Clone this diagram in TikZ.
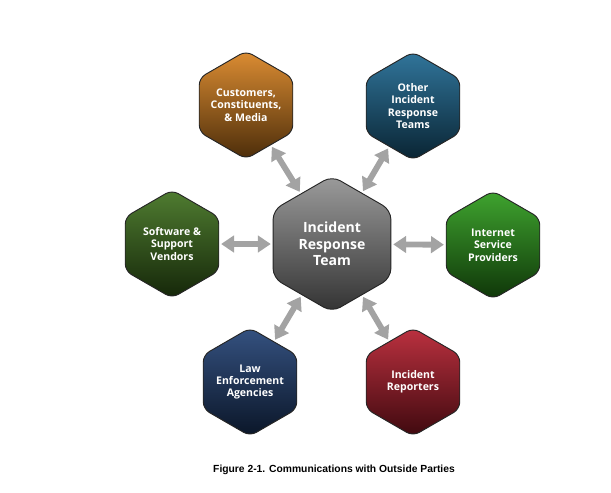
\documentclass[tikz,border=0pt]{standalone}
\usepackage{fontspec}
\newfontfamily\hexfont{Open Sans}
\newfontfamily\capfont{Liberation Sans}
\usetikzlibrary{shapes.geometric,arrows.meta}

\definecolor{custC}{HTML}{D8801C}
\definecolor{otherC}{HTML}{1A6690}
\definecolor{softC}{HTML}{3C6E1A}
\definecolor{ispC}{HTML}{2A9A18}
\definecolor{lawC}{HTML}{1E3E72}
\definecolor{repC}{HTML}{B41A2A}
\definecolor{irtC}{HTML}{909090}
\definecolor{arrowC}{HTML}{A3A3A3}

\tikzset{
    hexbox/.style={regular polygon, regular polygon sides=6, shape border rotate=30,
        minimum size=3.24cm, inner sep=0pt, outer sep=0pt, rounded corners=6pt,
        draw=black!85, line width=0.8pt,
        top color=#1!90!white, bottom color=#1!35!black},
    hextext/.style={font=\hexfont\bfseries\fontsize{9}{10.5}\selectfont,
        text=white, align=center},
    dblarrow/.style={draw=arrowC, line width=5pt, shorten <=2pt, shorten >=2pt,
        {Triangle[width=14pt,length=11pt]}-{Triangle[width=14pt,length=11pt]}}
}

\begin{document}
\begin{tikzpicture}[x=0.03cm, y=-0.03cm]
    \useasboundingbox (0,0) rectangle (611,492);

    % Mitte: das Team
    \node[hexbox=irtC, minimum size=4.08cm, rounded corners=8pt,
          label={[hextext, font=\hexfont\bfseries\fontsize{12}{14}\selectfont]center:Incident\\Response\\Team}]
          (irt) at (332,244) {};

    % aeussere Partner
    \node[hexbox=custC,  label={[hextext]center:Customers,\\Constituents,\\\& Media}] (cust) at (246,105) {};
    \node[hexbox=otherC, label={[hextext]center:Other\\Incident\\Response\\Teams}] (other) at (413,106) {};
    \node[hexbox=softC,  label={[hextext]center:Software \&\\Support\\Vendors}] (soft) at (172,244) {};
    \node[hexbox=ispC,   label={[hextext]center:Internet\\Service\\Providers}] (isp) at (493,245) {};
    \node[hexbox=lawC,   label={[hextext]center:Law\\Enforcement\\Agencies}] (law) at (250,382) {};
    \node[hexbox=repC,   label={[hextext]center:Incident\\Reporters}] (rep) at (413,382) {};

    % Pfeile in beide Richtungen
    \foreach \p in {cust, other, soft, isp, law, rep}
        \draw[dblarrow] (irt) -- (\p);

    % Bildunterschrift
    \node[font=\capfont\bfseries\fontsize{8.8}{10}\selectfont] (caption) at (334,470)
        {Figure 2-1. Communications with Outside Parties};
\end{tikzpicture}
\end{document}
